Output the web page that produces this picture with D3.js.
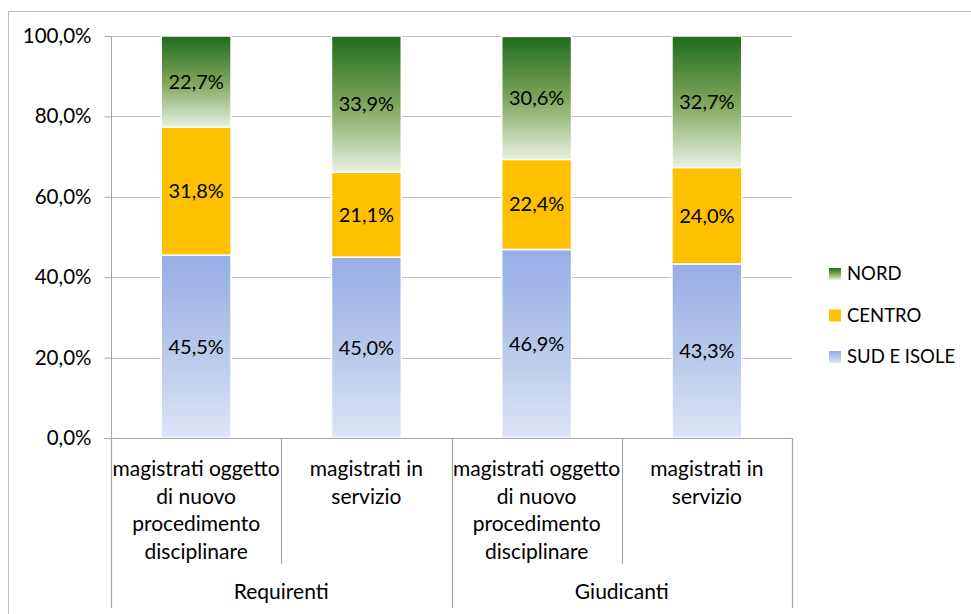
<!DOCTYPE html>
<html><head><meta charset="utf-8">
<script src="https://cdn.jsdelivr.net/npm/d3@7"></script>
<style>body{margin:0;background:#fff}svg{display:block;font-family:Lato,"Open Sans",sans-serif}</style>
</head><body>
<svg id="c" width="971" height="614"></svg>
<script>
const groups = ["Requirenti", "Giudicanti"];
const categories = ["magistrati oggetto di nuovo procedimento disciplinare", "magistrati in servizio", "magistrati oggetto di nuovo procedimento disciplinare", "magistrati in servizio"];
const categoryLines = [["magistrati oggetto","di nuovo","procedimento","disciplinare"],["magistrati in","servizio"],["magistrati oggetto","di nuovo","procedimento","disciplinare"],["magistrati in","servizio"]];
const categoryGroup = [0, 0, 1, 1];
const seriesNames = ["SUD E ISOLE", "CENTRO", "NORD"];
const sud = [45.5, 45.0, 46.9, 43.3];
const centro = [31.8, 21.1, 22.4, 24.0];
const nord = [22.7, 33.9, 30.6, 32.7];
const yTicks = [0, 20, 40, 60, 80, 100];

const svg = d3.select("#c");
const defs = svg.append("defs");
function grad(id, stops) {
  const g = defs.append("linearGradient").attr("id", id).attr("x1",0).attr("y1",0).attr("x2",0).attr("y2",1);
  stops.forEach(s => g.append("stop").attr("offset", s[0]).attr("stop-color", s[1]));
}
grad("gSud", [[0,"#97ADE6"],[0.5,"#B6C7EA"],[1,"#DEE4F6"]]);
grad("gNord", [[0,"#1F6B1F"],[0.5,"#7DA55A"],[1,"#E8F0E0"]]);
const fills = ["url(#gSud)", "#FFC000", "url(#gNord)"];
const legendFills = ["url(#gSud)", "#FFC000", "url(#gNord)"];

// outer border
svg.append("rect").attr("x", 8.5).attr("y", 11.5).attr("width", 980).attr("height", 620)
  .attr("fill", "none").attr("stroke", "#BFBFBF").attr("stroke-width", 1);

const L = 111, R = 792, T = 36, B = 438;
const x = d3.scaleBand().domain(d3.range(categories.length)).range([L, R]).paddingInner(0.59).paddingOuter(0.295);
const xSlot = d3.scaleBand().domain(d3.range(categories.length)).range([L, R]);
const y = d3.scaleLinear().domain([0, 100]).range([B, T]);

// gridlines
svg.append("g").selectAll("line").data(yTicks.filter(d => d > 0)).join("line")
  .attr("x1", L).attr("x2", R).attr("y1", d => Math.round(y(d)) + 0.5).attr("y2", d => Math.round(y(d)) + 0.5)
  .attr("stroke", "#BFBFBF").attr("stroke-width", 1.2);

// y axis
const fmt = d => d.toFixed(1).replace(".", ",") + "%";
const ya = svg.append("g").attr("transform", `translate(${L + 0.5},0)`)
  .call(d3.axisLeft(y).tickValues(yTicks).tickFormat(fmt).tickSize(7).tickPadding(13));
ya.select(".domain").attr("stroke", "#A6A6A6").attr("d", `M0,${T}V${B}`);
ya.selectAll(".tick line").attr("stroke", "#A6A6A6");
ya.selectAll(".tick text").attr("font-size", 20.5).attr("fill", "#000").attr("font-family", "Lato, sans-serif");

// stacks
const data = categories.map((c, i) => ({ i, sud: sud[i], centro: centro[i], nord: nord[i] }));
const stack = d3.stack().keys(["sud", "centro", "nord"])(data);
const layers = svg.append("g").selectAll("g").data(stack).join("g").attr("fill", (d, k) => fills[k]);
layers.selectAll("rect").data(d => d).join("rect")
  .attr("x", d => x(d.data.i)).attr("width", x.bandwidth())
  .attr("y", d => y(d[1])).attr("height", d => y(d[0]) - y(d[1]))
  .attr("stroke", "#fff").attr("stroke-width", 1.5);
stack.forEach((layer, k) => {
  svg.append("g").selectAll("text").data(layer).join("text")
    .attr("x", d => x(d.data.i) + x.bandwidth() / 2)
    .attr("y", d => (y(d[0]) + y(d[1])) / 2)
    .attr("dy", "0.35em").attr("text-anchor", "middle").attr("font-size", 20).attr("fill", "#000")
    .text(d => (d[1] - d[0]).toFixed(1).replace(".", ",") + "%");
});

// x axis baseline
svg.append("line").attr("x1", L - 7).attr("x2", R).attr("y1", B + 0.5).attr("y2", B + 0.5).attr("stroke", "#A6A6A6").attr("stroke-width", 1.2);
// category separators
const sepG = svg.append("g").attr("stroke", "#A6A6A6").attr("stroke-width", 1.2);
d3.range(categories.length + 1).forEach(i => {
  const xx = i < categories.length ? xSlot(i) : R;
  const isGroup = i === 0 || i === categories.length || categoryGroup[i] !== categoryGroup[i - 1];
  sepG.append("line").attr("x1", Math.round(xx) + 0.5).attr("x2", Math.round(xx) + 0.5)
    .attr("y1", B).attr("y2", isGroup ? 608 : 564);
});
// category labels
categoryLines.forEach((lines, i) => {
  const t = svg.append("text").attr("x", xSlot(i) + xSlot.bandwidth() / 2).attr("y", 476)
    .attr("text-anchor", "middle").attr("font-size", 21).attr("fill", "#000");
  lines.forEach((ln, j) => t.append("tspan").attr("x", xSlot(i) + xSlot.bandwidth() / 2).attr("y", 476 + j * 27.5).text(ln));
});
// group labels
groups.forEach((g, gi) => {
  const idx = d3.range(categories.length).filter(i => categoryGroup[i] === gi);
  const x0 = xSlot(idx[0]), x1 = xSlot(idx[idx.length - 1]) + xSlot.bandwidth();
  svg.append("text").attr("x", (x0 + x1) / 2).attr("y", 599).attr("text-anchor", "middle")
    .attr("font-size", 21).attr("fill", "#000").text(g);
});

// legend
const legendOrder = [2, 1, 0];
const lg = svg.append("g");
legendOrder.forEach((k, j) => {
  const yy = 274 + j * 41.5;
  lg.append("rect").attr("x", 829).attr("y", yy - 6).attr("width", 12).attr("height", 12).attr("fill", legendFills[k]);
  lg.append("text").attr("x", 847).attr("y", yy).attr("dy", "0.35em").attr("font-size", 18.5).attr("fill", "#000").text(seriesNames[k]);
});
</script>
</body></html>
